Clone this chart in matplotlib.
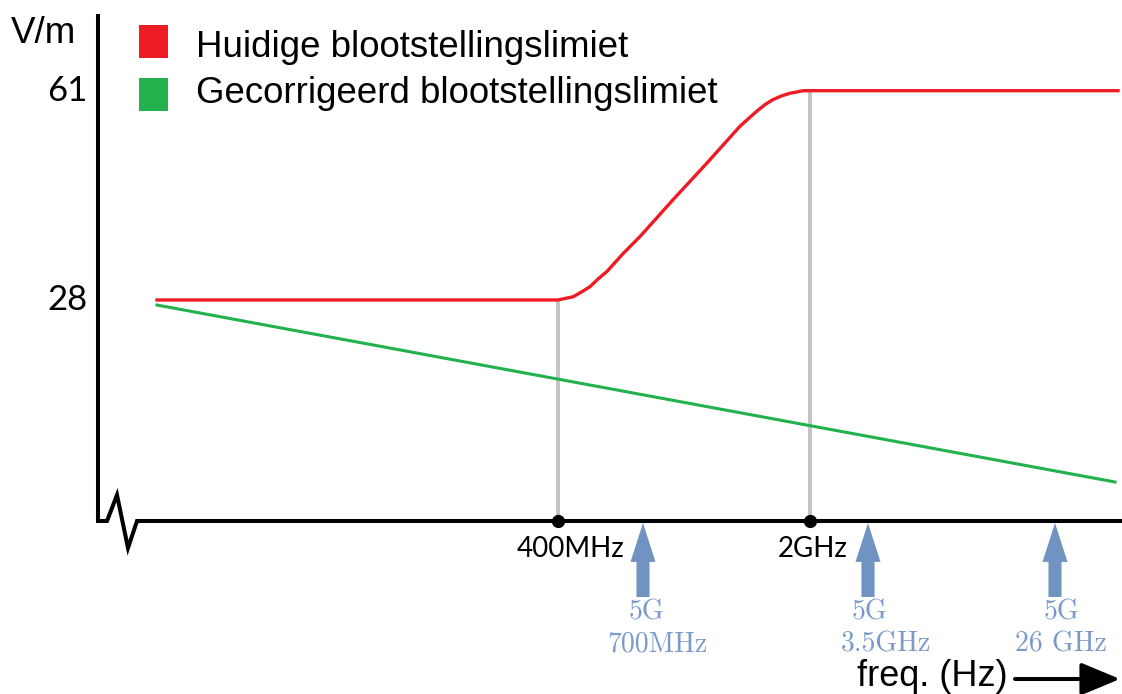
"""
Schematic chart: current vs corrected exposure limit (V/m) against frequency,
with the 5G bands marked under the axis.
"""

import matplotlib
matplotlib.use("Agg")
import matplotlib.pyplot as plt
from matplotlib.patches import Rectangle, FancyArrowPatch

# ---- data (x is a schematic frequency position, not a real scale) ----
red_x = [157, 558, 567, 573, 582, 590, 598, 607, 623, 640, 673, 707, 740, 757,
         765, 773, 782, 790, 797, 803, 1118]
red_v = [28, 28, 28.3, 28.5, 29.3, 30.1, 31.3, 32.5, 35.3, 38.0, 43.8, 49.6, 55.4, 57.8,
         58.8, 59.6, 60.2, 60.6, 60.8, 61, 61]

green_x = [157, 1115]
green_v = [27.2, -0.7]

ref_x = [558, 810]              # 400MHz, 2GHz
ref_v = [28, 61]
ref_labels = ["400MHz", "2GHz"]

ytick_vals = [61, 28]
ytick_labels = ["61", "28"]

band_x = [643, 868, 1055]
band_labels = [("5G", "700MHz"), ("5G", "3.5GHz"), ("5G", "26 GHz")]

series_names = ["Huidige blootstellingslimiet", "Gecorrigeerd blootstellingslimiet"]
series_colors = ["#ed1c24", "#22b14c"]

BASE = -6.85   # value where the (broken) x axis sits

fig = plt.figure(figsize=(11.22, 6.94), dpi=100)

# data axes: x in schematic units, y in V/m
ax = fig.add_axes([0, 0, 1, 1])
ax.set_xlim(0, 1122)
ax.set_ylim(-34.13, 75.30)
ax.axis("off")

for x, v in zip(ref_x, ref_v):
    ax.plot([x, x], [BASE, v], color="#c3c3c3", lw=2.8, zorder=1, solid_capstyle="butt")
ax.plot(green_x, green_v, color=series_colors[1], lw=2.2, zorder=2)
ax.plot(red_x, red_v, color=series_colors[0], lw=2.4, zorder=3,
        solid_joinstyle="round")
ax.plot(ref_x, [BASE] * len(ref_x), "o", color="black", ms=8.5, zorder=5)

# layout axes in pixel units for the hand drawn decorations
lay = fig.add_axes([0, 0, 1, 1])
lay.set_xlim(0, 1122)
lay.set_ylim(694, 0)
lay.axis("off")
lay.patch.set_alpha(0)

# axes with the break squiggle
lay.plot([98, 98], [14, 521], color="black", lw=2.9, solid_capstyle="butt")
lay.plot([98, 107, 117, 128, 137, 1122], [521, 521, 495, 548, 521, 521],
         color="black", lw=2.9, solid_joinstyle="miter")

# y tick labels
for v, lab in zip(ytick_vals, ytick_labels):
    ypx = (75.30 - v) * 6.342
    lay.text(88, ypx + 10, lab, ha="right", va="baseline", fontsize=25, family="Lato")
lay.text(11, 43, "V/m", ha="left", va="baseline", fontsize=26.5, family="Liberation Sans")

# x reference labels
for cx, lab in zip([571, 813], ref_labels):
    lay.text(cx, 557, lab, ha="center", va="baseline", fontsize=20, family="Lato")

# legend
for i, (name, col) in enumerate(zip(series_names, series_colors)):
    top = 25 + i * 52.5
    lay.add_patch(Rectangle((139, top), 29, 33, color=col, lw=0))
    lay.text(196, 57 + i * 46, name, ha="left", va="baseline", fontsize=26.4,
             family="Liberation Sans")

# 5G band arrows
blue = "#7093c1"
text_blue = "#7a9aca"
line1_dx = [3, 1, 6]
line2_dx = [15, 18, 6]
for i, (x, (l1, l2)) in enumerate(zip(band_x, band_labels)):
    arr = FancyArrowPatch((x, 597), (x, 523), arrowstyle="simple,head_length=28,head_width=18,tail_width=9.4",
                          mutation_scale=1, color=blue, lw=0, shrinkA=0, shrinkB=0)
    lay.add_patch(arr)
    lay.text(x + line1_dx[i], 620, l1, ha="center", va="baseline", fontsize=20,
             family="cmr10", color=text_blue)
    lay.text(x + line2_dx[i], 652, l2, ha="center", va="baseline", fontsize=20,
             family="cmr10", color=text_blue)

# frequency axis label with arrow
lay.text(857, 686, "freq. (Hz)", ha="left", va="baseline", fontsize=26, family="Liberation Sans")
lay.add_patch(FancyArrowPatch((1015, 679), (1120, 679), arrowstyle="-|>,head_length=24,head_width=10",
                              mutation_scale=1, color="black", lw=2.9, shrinkA=0, shrinkB=0))

fig.savefig("out.png", dpi=100)
